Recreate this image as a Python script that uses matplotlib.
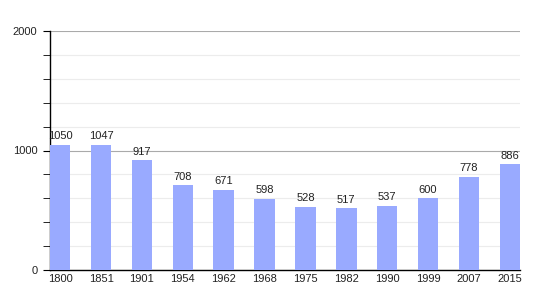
import numpy as np
import matplotlib.pyplot as plt
from matplotlib.ticker import MultipleLocator

years = ['1800', '1851', '1901', '1954', '1962', '1968', '1975', '1982', '1990', '1999', '2007', '2015']
population = [1050, 1047, 917, 708, 671, 598, 528, 517, 537, 600, 778, 886]

plt.rcParams['font.family'] = ['Liberation Sans', 'DejaVu Sans']

fig = plt.figure(figsize=(5.5, 3), dpi=100)
ax = fig.add_axes([50/550, 30/300, 470/550, 239/300])

x = np.arange(len(years))
ax.bar(x, population, width=0.5, color='#99aaff', zorder=3)
for xi, v in zip(x, population):
    ax.text(xi, v + 30, str(v), ha='center', va='bottom', fontsize=8, color='#222222')

ax.set_xlim(-0.25, len(years) - 0.75)
ax.set_ylim(0, 2000)
ax.set_xticks(x)
ax.set_xticklabels(years)
ax.yaxis.set_major_locator(MultipleLocator(1000))
ax.yaxis.set_minor_locator(MultipleLocator(200))
ax.grid(axis='y', which='major', color='#aaaaaa', linewidth=0.8, zorder=0)
ax.grid(axis='y', which='minor', color='#ececec', linewidth=0.8, zorder=0)
ax.tick_params(axis='x', length=0, labelsize=8, pad=3, labelcolor='#222222')
ax.tick_params(axis='y', which='major', length=5, labelsize=8, pad=4, labelcolor='#222222')
ax.tick_params(axis='y', which='minor', length=5)

for s in ['top', 'right']:
    ax.spines[s].set_visible(False)
ax.spines['left'].set_linewidth(1)
ax.spines['bottom'].set_linewidth(1)

fig.savefig('out.png', dpi=100)
